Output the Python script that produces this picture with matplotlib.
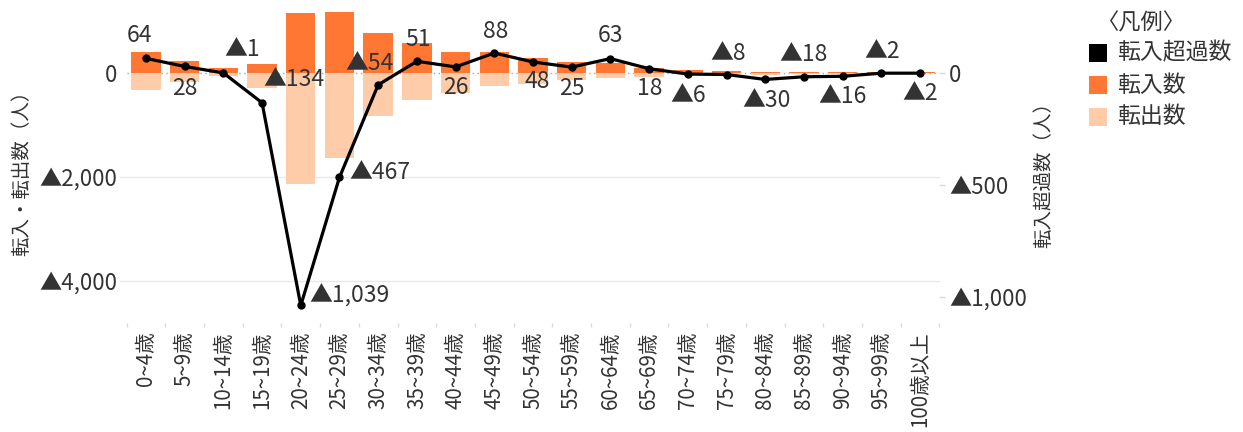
import numpy as np
import matplotlib
matplotlib.use("Agg")
import matplotlib.pyplot as plt
from matplotlib.patches import Rectangle
from matplotlib.ticker import FuncFormatter

# ---- data -------------------------------------------------------------
age_groups = ["0~4歳", "5~9歳", "10~14歳", "15~19歳", "20~24歳", "25~29歳",
              "30~34歳", "35~39歳", "40~44歳", "45~49歳", "50~54歳", "55~59歳",
              "60~64歳", "65~69歳", "70~74歳", "75~79歳", "80~84歳", "85~89歳",
              "90~94歳", "95~99歳", "100歳以上"]
moved_in = [403, 223, 96, 172, 1137, 1157, 750, 573, 389, 390, 274, 198,
            178, 94, 44, 33, 15, 15, 12, 10, 4]
moved_out = [334, 180, 70, 288, 2150, 1643, 830, 525, 385, 251, 230, 142,
             109, 79, 30, 38, 40, 30, 28, 10, 5]
net_in = [64, 28, -1, -134, -1039, -467, -54, 51, 26, 88, 48, 25, 63, 18,
          -6, -8, -30, -18, -16, -2, -2]
series_names = ["転入超過数", "転入数", "転出数"]
left_ticks = [0, -2000, -4000]
right_ticks = [0, -500, -1000]

# label offsets (pixels) relative to each line point
label_offsets = [(-6, 23), (0, -22), (19, 23), (32, 23), (49, 10), (40, 5),
                 (-9, 21), (1, 22), (0, -21), (1, 22), (4, -20), (0, -21),
                 (0, 23), (1, -20), (0, -21), (2, 21), (1, -21), (0, 22),
                 (0, -20), (1, 22), (0, -20)]

C_IN = "#FF7733"
C_OUT = "#FFCCAA"
C_NET = "#000000"
TXT = "#333333"
GRID = "#E8E8E8"

plt.rcParams["font.family"] = ["Noto Sans CJK JP", "DejaVu Sans"]


def tri_fmt(v, pos=None):
    v = int(round(v))
    if v < 0:
        return "▲{:,}".format(-v)
    return "{:,}".format(v)


W, H = 1243, 432
fig = plt.figure(figsize=(W / 100, H / 100), dpi=100)

x0, x1, ytop, ybot = 126.6, 939.4, 10.0, 322.5
ax = fig.add_axes([x0 / W, 1 - ybot / H, (x1 - x0) / W, (ybot - ytop) / H])
x = np.arange(len(age_groups))

ax.axhline(0, color="#A6A6A6", lw=1.0, ls=(0, (1, 2.5)), zorder=1)
for t in left_ticks[1:]:
    ax.axhline(t, xmin=-0.008, xmax=1.0, color=GRID, lw=1.0, zorder=0, clip_on=False)

ax.bar(x, moved_in, width=0.76, color=C_IN, zorder=2)
ax.bar(x, [-v for v in moved_out], width=0.76, color=C_OUT, zorder=2)

ax.set_xlim(-0.5, len(age_groups) - 0.5)
ax.set_ylim(-4800, 1200)
ax.set_yticks(left_ticks)
ax.yaxis.set_major_formatter(FuncFormatter(tri_fmt))
ax.tick_params(axis="y", length=0, pad=7, labelsize=16, labelcolor=TXT)
ax.set_xticks(x)
ax.set_xticklabels(age_groups, rotation=90, fontsize=14.8, color=TXT)
ax.set_xticks(np.arange(-0.5, len(age_groups), 1.0), minor=True)
ax.tick_params(axis="x", which="major", length=0, pad=6.5)
ax.tick_params(axis="x", which="minor", length=3.2, width=1, color="#D9D9D9")
for s in ax.spines.values():
    s.set_visible(False)

ax2 = ax.twinx()
ax2.plot(x, net_in, color=C_NET, lw=2.3, marker="o", ms=5, zorder=3)
ax2.set_ylim(-1115, 280)
ax2.set_yticks(right_ticks)
ax2.yaxis.set_major_formatter(FuncFormatter(tri_fmt))
ax2.tick_params(axis="y", length=4, width=1, color="#D9D9D9", pad=3,
                labelsize=16, labelcolor=TXT)
for s in ax2.spines.values():
    s.set_visible(False)

for xi, v, (dx, dy) in zip(x, net_in, label_offsets):
    ax2.annotate(tri_fmt(v), (xi, v), xytext=(dx, dy), textcoords="offset pixels",
                 ha="center", va="center", fontsize=16.5, color=TXT, zorder=4)

# axis titles
fig.text(22 / W, 1 - 168.5 / H, "転入・転出数（人）", rotation=90,
         ha="center", va="center", fontsize=14, color=TXT)
fig.text(1044 / W, 1 - 169.5 / H, "転入超過数（人）", rotation=90,
         ha="center", va="center", fontsize=14, color=TXT)

# legend
fig.text(1097 / W, 1 - 22.5 / H, "〈凡例〉", ha="left", va="center",
         fontsize=16, color=TXT)
legend_rows = [52.5, 85.0, 116.7]
for name, col, yc in zip(series_names, [C_NET, C_IN, C_OUT], legend_rows):
    fig.add_artist(Rectangle((1089 / W, 1 - (yc + 9) / H), 18 / W, 18 / H,
                             transform=fig.transFigure, color=col, lw=0))
    fig.text(1117 / W, 1 - yc / H, name, ha="left", va="center",
             fontsize=16.5, color=TXT)

fig.savefig("out.png", dpi=100)
